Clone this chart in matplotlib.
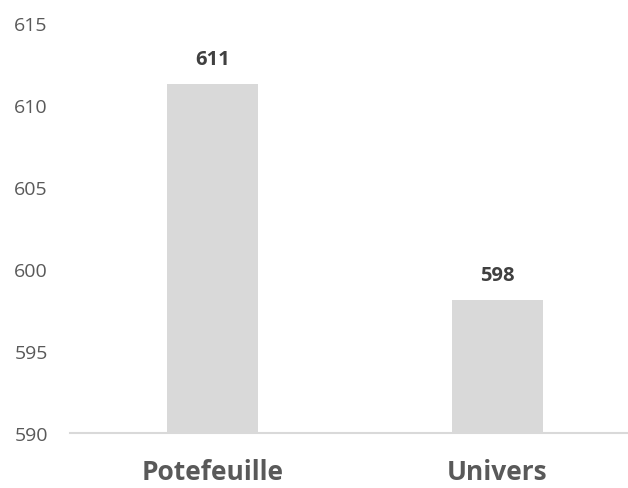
import matplotlib.pyplot as plt

categories = ["Potefeuille", "Univers"]
values = [611.3, 598.1]
labels = ["611", "598"]
yticks = [590, 595, 600, 605, 610, 615]

plt.rcParams['font.family'] = ['Open Sans', 'DejaVu Sans']

fig = plt.figure(figsize=(6.28, 4.89), dpi=100)
ax = fig.add_axes([70/628, 55/489, 570/628, 410/489])

x = range(len(categories))
ax.bar(x, values, width=0.316, color="#d9d9d9", bottom=0)
ax.set_xlim(-0.5, 1.5)
ax.set_ylim(590, 615)
ax.set_yticks(yticks)
ax.set_xticks(list(x))
ax.set_xticklabels(categories, fontsize=19, fontweight="bold", color="#595959")
ax.tick_params(axis="y", length=0, labelsize=14, labelcolor="#595959", pad=16)
ax.tick_params(axis="x", length=0, pad=18)

for s in ["top", "right", "left"]:
    ax.spines[s].set_visible(False)
ax.spines["bottom"].set_color("#d9d9d9")
ax.spines["bottom"].set_linewidth(1.5)

for xi, v, t in zip(x, values, labels):
    ax.annotate(t, (xi, v), xytext=(0, 18), textcoords="offset points",
                ha="center", va="center", fontsize=14.5, fontweight="bold", color="#404040")

fig.savefig("out.png", dpi=100)
